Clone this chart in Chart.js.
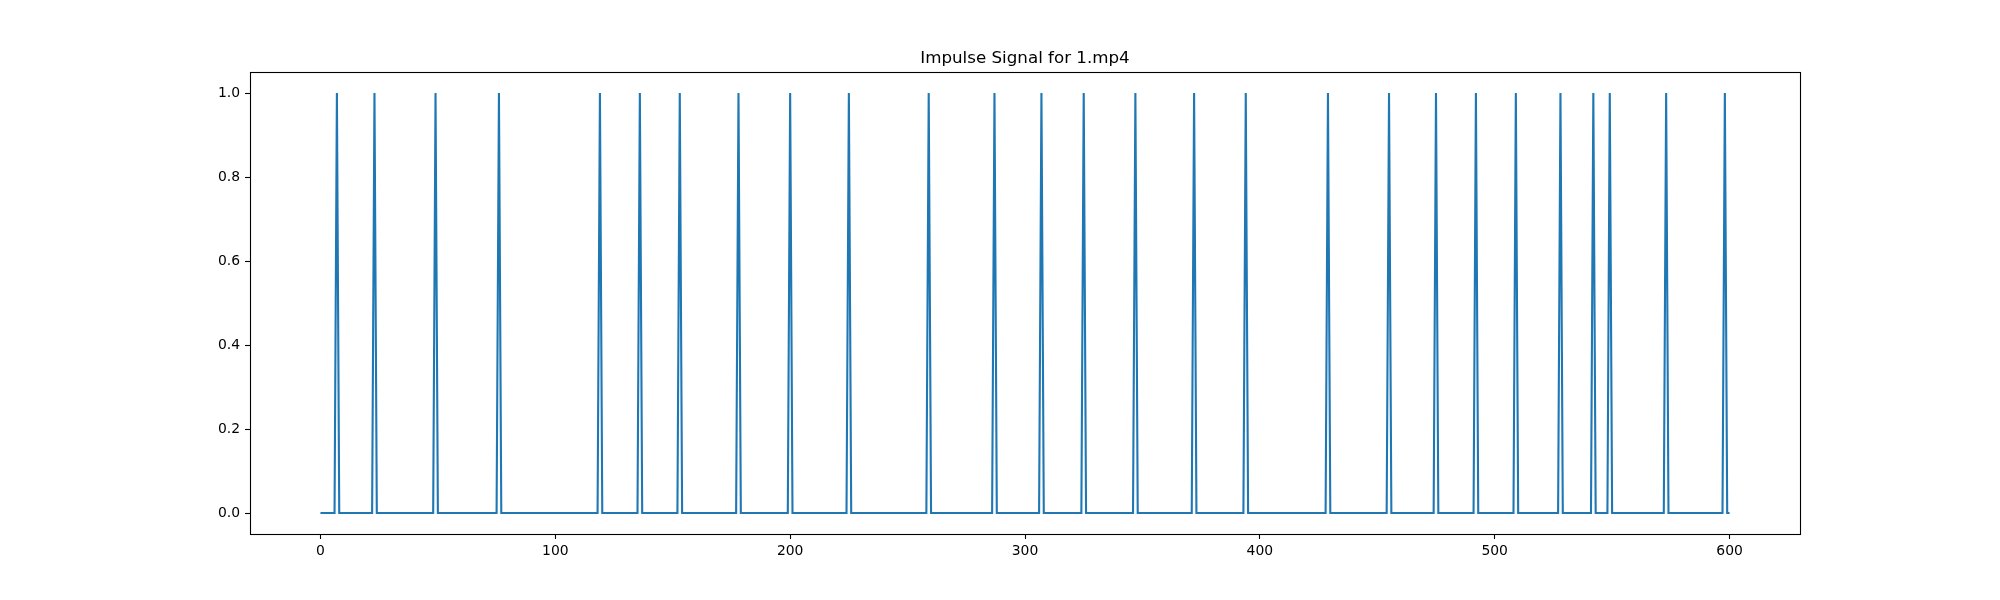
<!DOCTYPE html>
<html>
<head>
<meta charset="utf-8">
<script src="https://cdn.jsdelivr.net/npm/chart.js@4"></script>
<style>
  html, body { margin: 0; padding: 0; background: #ffffff; }
  #wrap { width: 2000px; height: 600px; }
</style>
</head>
<body>
<div id="wrap"><canvas id="c" width="2000" height="600"></canvas></div>
<script>
// ---- data ----
const chartTitle = "Impulse Signal for 1.mp4";
const frameCount = 601;               // frames 0..600
const impulseFrames = [7, 23, 49, 76, 119, 136, 153, 178, 200, 225, 259, 287, 307, 325,
                       347, 372, 394, 429, 455, 475, 492, 509, 528, 542, 549, 573, 598];
const xTickLabels = [0, 100, 200, 300, 400, 500, 600];
const yTickLabels = [0.0, 0.2, 0.4, 0.6, 0.8, 1.0];

// build the impulse series (0 everywhere except detected frames)
const impulseSet = new Set(impulseFrames);
const frames = [];
const signal = [];
for (let i = 0; i < frameCount; i++) {
  frames.push(i);
  signal.push(impulseSet.has(i) ? 1 : 0);
}
const points = frames.map((f, i) => ({ x: f, y: signal[i] }));

const frame = {
  id: 'frame',
  afterDatasetsDraw(chart) {
    const a = chart.chartArea, ctx = chart.ctx;
    ctx.save();
    ctx.strokeStyle = '#000';
    ctx.lineWidth = 1.1;
    ctx.strokeRect(Math.round(a.left) + 0.5, Math.round(a.top) + 0.5,
                   Math.round(a.right - a.left), Math.round(a.bottom - a.top));
    ctx.restore();
  }
};

Chart.defaults.font.family = "'DejaVu Sans', sans-serif";
Chart.defaults.color = '#000';

new Chart(document.getElementById('c'), {
  type: 'line',
  data: {
    datasets: [{
      data: points,
      borderColor: '#1f77b4',
      borderWidth: 2.1,
      pointRadius: 0,
      tension: 0,
      fill: false
    }]
  },
  options: {
    responsive: false,
    animation: false,
    devicePixelRatio: 1,
    layout: { padding: { left: 50, right: 0, top: 0, bottom: 0 } },
    plugins: {
      legend: { display: false },
      tooltip: { enabled: false },
      title: {
        display: true,
        text: chartTitle,
        color: '#000',
        font: { size: 16.7, weight: 'normal', lineHeight: 1.2 },
        padding: { top: 49, bottom: 3 }
      }
    },
    scales: {
      x: {
        type: 'linear',
        min: -30,
        max: 630,
        afterFit(scale) { scale.height = 66; },
        afterBuildTicks(scale) { scale.ticks = xTickLabels.map(v => ({ value: v })); },
        ticks: {
          includeBounds: false,
          stepSize: 100,
          padding: 4,
          color: '#000',
          font: { size: 13.9 },
          maxRotation: 0,
          callback: v => String(v)
        },
        grid: { drawOnChartArea: false, drawTicks: true, tickLength: 5, tickColor: '#000', tickWidth: 1.1 },
        border: { display: false }
      },
      y: {
        min: -0.05,
        max: 1.05,
        afterFit(scale) { scale.width = 200; },
        afterBuildTicks(scale) { scale.ticks = yTickLabels.map(v => ({ value: v })); },
        ticks: {
          includeBounds: false,
          stepSize: 0.2,
          padding: 5,
          color: '#000',
          font: { size: 13.9 },
          callback: v => Number(v).toFixed(1)
        },
        grid: { drawOnChartArea: false, drawTicks: true, tickLength: 5, tickColor: '#000', tickWidth: 1.1 },
        border: { display: false }
      },
      yRightSpace: {
        position: 'right',
        min: 0,
        max: 1,
        afterFit(scale) { scale.width = 200; },
        ticks: { display: false },
        grid: { display: false, drawTicks: false },
        border: { display: false }
      }
    }
  },
  plugins: [frame]
});
</script>
</body>
</html>
